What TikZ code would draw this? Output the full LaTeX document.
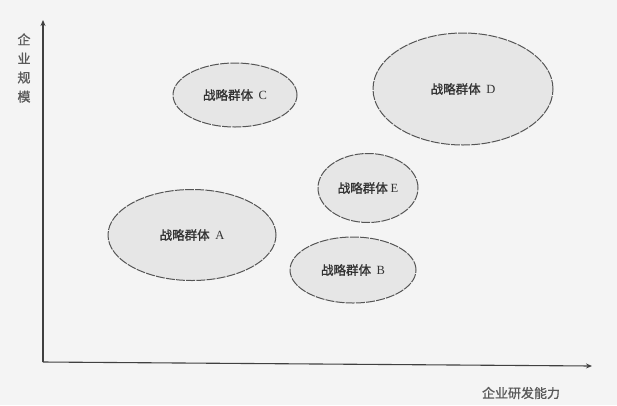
\documentclass[tikz,border=0pt]{standalone}
\usepackage{fontspec}
\setmainfont{Liberation Serif}
\newfontfamily\cjk{Noto Sans CJK SC}
\newfontfamily\cjkb[FakeBold=1.2]{Noto Sans CJK SC}
\usetikzlibrary{shapes.geometric,arrows.meta}
\definecolor{bgc}{HTML}{F4F4F4}
\definecolor{fillc}{HTML}{E6E6E6}
\definecolor{edgec}{HTML}{555555}
\newcommand{\grptext}[1]{战略群体\ \ {\rmfamily #1}}
\tikzset{
  grp/.style={ellipse, draw=edgec, fill=fillc, line width=1pt,
    dash pattern=on 9pt off 1.2pt, inner sep=0pt,
    font=\cjkb\fontsize{12.5}{14}\selectfont, text=black!80},
  axis/.style={draw=black!75, line width=1.1pt, -{Stealth[length=6pt,width=5pt]}},
  axlabel/.style={font=\cjkb\fontsize{13}{19}\selectfont, text=black!65, inner sep=0pt}
}
\begin{document}
\begin{tikzpicture}[x=1pt,y=-1pt]
\fill[bgc] (0,0) rectangle (617,405);
\useasboundingbox (0,0) rectangle (617,405);
\coordinate (O) at (43,362);
\coordinate (ytip) at (43,20);
\coordinate (xtip) at (592,366);
\draw[axis] (O) -- (ytip);
\draw[axis] (O) -- (xtip);
\node[axlabel, align=center] (ylab) at (24,68) {企\\业\\规\\模};
\node[axlabel] (xlab) at (521,393) {企业研发能力};
\node[grp, minimum width=124pt, minimum height=64pt] (C) at (235,95) {\grptext{C}};
\node[grp, minimum width=180pt, minimum height=112pt] (D) at (463,89) {\grptext{D}};
\node[grp, minimum width=100pt, minimum height=69pt] (E) at (368,188) {战略群体 {\rmfamily E}};
\node[grp, minimum width=168pt, minimum height=91pt] (A) at (192,235) {\grptext{A}};
\node[grp, minimum width=126pt, minimum height=66pt] (B) at (353,270) {\grptext{B}};
\end{tikzpicture}
\end{document}
